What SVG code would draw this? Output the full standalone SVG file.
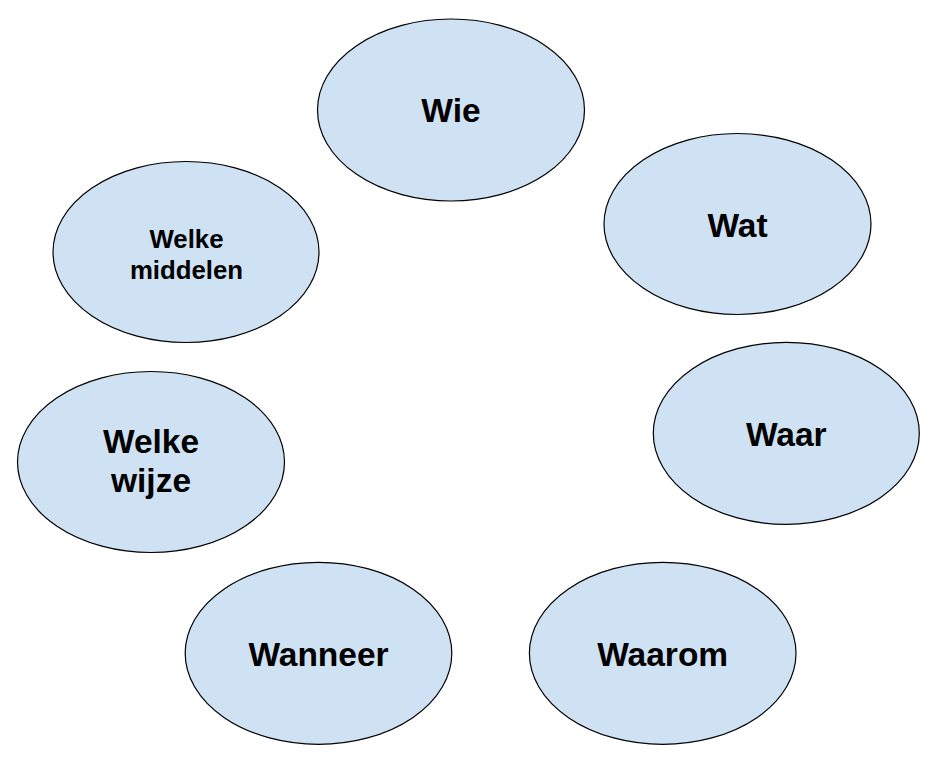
<svg xmlns="http://www.w3.org/2000/svg" width="932" height="758" viewBox="0 0 932 758">
<style>
.node ellipse { fill: #cfe2f3; stroke: #000000; stroke-width: 1.2; }
.node text { font-family: "Liberation Sans", Arial, sans-serif; font-weight: bold; fill: #000000; text-anchor: middle; }
.big { font-size: 33.5px; }
.small { font-size: 25.8px; }
</style>
<rect width="932" height="758" fill="#ffffff"/>
<g id="connectors"></g>
<g id="node-wie" class="node">
<ellipse cx="451" cy="110" rx="133.5" ry="91"/>
<text class="big" x="451" y="122">Wie</text>
</g>
<g id="node-wat" class="node">
<ellipse cx="737.5" cy="224" rx="133.5" ry="90.5"/>
<text class="big" x="737.5" y="236.5">Wat</text>
</g>
<g id="node-waar" class="node">
<ellipse cx="786.3" cy="433.3" rx="133" ry="91"/>
<text class="big" x="786.3" y="446">Waar</text>
</g>
<g id="node-waarom" class="node">
<ellipse cx="662.7" cy="653.3" rx="133.3" ry="91"/>
<text class="big" x="662.7" y="665.5">Waarom</text>
</g>
<g id="node-wanneer" class="node">
<ellipse cx="318.5" cy="653.3" rx="133.3" ry="91"/>
<text class="big" x="318.5" y="665.5">Wanneer</text>
</g>
<g id="node-welke-wijze" class="node">
<ellipse cx="151" cy="462" rx="133.5" ry="90.5"/>
<text class="big" x="151" y="453">Welke</text>
<text class="big" x="151" y="491.5">wijze</text>
</g>
<g id="node-welke-middelen" class="node">
<ellipse cx="186" cy="252" rx="133" ry="90.5"/>
<text class="small" x="186.5" y="248">Welke</text>
<text class="small" x="186.5" y="278.5">middelen</text>
</g>
</svg>
